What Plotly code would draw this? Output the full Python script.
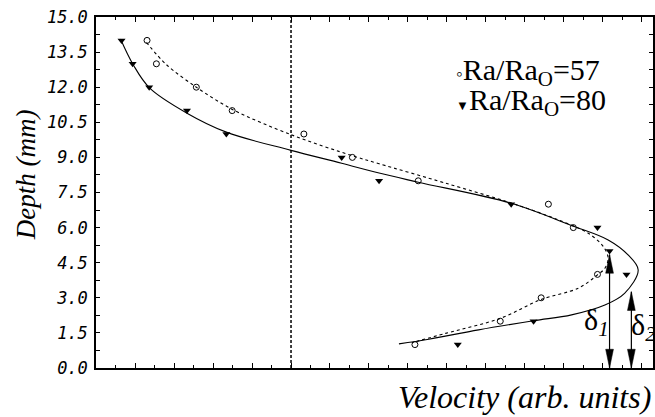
import plotly.graph_objects as go

# ---- data ----
depth57 = [14, 13, 12, 11, 10, 9, 8, 7, 6, 4, 3, 2, 1]
vel57 = [-7.39, -6.91, -4.86, -3.02, 0.66, 3.15, 6.53, 13.21, 14.49, 15.73, 12.84, 10.74, 6.36]

depth80 = [14, 13, 12, 11, 10, 9, 8, 7, 6, 5, 4, 2, 1]
vel80 = [-8.70, -8.13, -7.28, -5.34, -3.32, 2.60, 4.52, 11.30, 15.73, 16.35, 17.22, 12.45, 8.56]

fit57_vel = [-7.42, -6.39, -4.86, -2.99, 0.0, 3.15, 4.52, 7.93, 11.34, 13.72, 15.26, 16.03,
             16.28, 16.11, 15.73, 14.75, 12.84, 10.74, 7.93, 6.20]
fit57_depth = [13.91, 12.96, 12.00, 11.04, 9.97, 9.07, 8.73, 7.90, 7.04, 6.33, 5.76, 5.19,
               4.69, 4.26, 3.98, 3.41, 2.93, 2.12, 1.48, 1.08]

fit80_vel = [-8.75, -8.10, -7.25, -5.34, -3.32, 0.0, 2.60, 4.52, 6.53, 11.30, 14.46, 16.28,
             17.30, 17.82, 17.12, 16.11, 14.40, 12.45, 9.63, 7.07, 5.54]
fit80_depth = [14.06, 12.96, 11.96, 10.89, 10.08, 9.30, 8.75, 8.33, 7.94, 7.04, 6.07, 5.47,
               4.83, 4.19, 3.19, 2.69, 2.27, 2.02, 1.63, 1.23, 1.03]

y_tick_vals = [0, 1.5, 3, 4.5, 6, 7.5, 9, 10.5, 12, 13.5, 15]
y_tick_text = ["0.0", "1.5", "3.0", "4.5", "6.0", "7.5", "9.0", "10.5", "12.0", "13.5", "15.0"]

zero_velocity = 0.0
delta_vel = [16.35, 17.47]
delta_top = [4.85, 3.26]
delta_label_vel = [15.68, 18.07]
delta_label_depth = [1.98, 1.77]
delta_labels = ["δ<sub><i>1</i></sub>", "δ<sub><i>2</i></sub>"]

legend_labels = ['<span style="font-size:19px">◦</span>Ra/Ra<sub>O</sub>=57',
                 '<span style="font-size:13px">▼</span>Ra/Ra<sub>O</sub>=80']

x_range = [-10.01, 18.58]
y_range = [0, 15]

SERIF = "Liberation Serif"
head_len = 0.8   # mm
head_half = 0.2  # velocity units

fig = go.Figure()

# zero-velocity dashed line
fig.add_trace(go.Scatter(x=[zero_velocity, zero_velocity], y=y_range, mode="lines",
                         line=dict(color="black", width=1.5, dash="3px,2px"),
                         showlegend=False, hoverinfo="skip"))

# fitted curves
fig.add_trace(go.Scatter(x=fit57_vel, y=fit57_depth, mode="lines",
                         line=dict(color="black", width=1.1, dash="3px,3px", shape="spline", smoothing=0.9),
                         showlegend=False))
fig.add_trace(go.Scatter(x=fit80_vel, y=fit80_depth, mode="lines",
                         line=dict(color="black", width=1.1, shape="spline", smoothing=1.0),
                         showlegend=False))

# data points
fig.add_trace(go.Scatter(x=vel57, y=depth57, mode="markers",
                         marker=dict(symbol="circle-open", size=6, color="black", line=dict(width=1)),
                         showlegend=False))
fig.add_trace(go.Scatter(x=vel80, y=depth80, mode="markers",
                         marker=dict(symbol="triangle-down", size=7, color="black"),
                         showlegend=False))

# delta arrows
for xv, top in zip(delta_vel, delta_top):
    fig.add_trace(go.Scatter(x=[xv, xv], y=[0, top], mode="lines",
                             line=dict(color="black", width=1.2), showlegend=False))
    fig.add_trace(go.Scatter(x=[xv, xv - head_half, xv + head_half, xv],
                             y=[top, top - head_len, top - head_len, top],
                             mode="lines", fill="toself", fillcolor="black",
                             line=dict(color="black", width=0.5), showlegend=False))
    fig.add_trace(go.Scatter(x=[xv, xv - head_half, xv + head_half, xv],
                             y=[0, head_len, head_len, 0],
                             mode="lines", fill="toself", fillcolor="black",
                             line=dict(color="black", width=0.5), showlegend=False))

for xl, yl, txt in zip(delta_label_vel, delta_label_depth, delta_labels):
    fig.add_annotation(x=xl, y=yl, text=txt, showarrow=False, xanchor="center", yanchor="middle",
                       font=dict(family=SERIF, size=30, color="black"))

# legend text
for i, txt in enumerate(legend_labels):
    fig.add_annotation(xref="paper", yref="paper", x=0.643, y=0.843 - i * 0.086, text=txt,
                       showarrow=False, xanchor="left", yanchor="middle",
                       font=dict(family=SERIF, size=30, color="black"))

# axis titles
fig.add_annotation(xref="paper", yref="paper", x=1.0, y=-0.083, text="Velocity (arb. units)",
                   showarrow=False, xanchor="right", yanchor="middle",
                   font=dict(family=SERIF, size=32, color="black", style="italic"))
fig.add_annotation(xref="paper", yref="paper", x=-0.125, y=0.55, text="Depth (mm)",
                   showarrow=False, xanchor="center", yanchor="middle", textangle=-90,
                   font=dict(family=SERIF, size=27, color="black", style="italic"))

fig.update_layout(
    width=655, height=417,
    margin=dict(l=96, r=0, t=17, b=49),
    paper_bgcolor="white", plot_bgcolor="white",
    xaxis=dict(range=x_range, showline=True, linecolor="black", linewidth=1.5, mirror="ticks",
               ticks="inside", tick0=0, dtick=2, ticklen=5, tickwidth=1.2, tickcolor="black",
               minor=dict(dtick=1, ticks="inside", ticklen=3, tickwidth=1, tickcolor="black"),
               showticklabels=False, showgrid=False, zeroline=False),
    yaxis=dict(range=y_range, showline=True, linecolor="black", linewidth=1.5, mirror="ticks",
               ticks="inside", tickvals=y_tick_vals, ticktext=y_tick_text, ticklen=4, tickwidth=1.2,
               tickcolor="black", ticklabelstandoff=3,
               minor=dict(tickvals=[v + 0.75 for v in y_tick_vals[:-1]], ticks="inside", ticklen=4,
                          tickwidth=1, tickcolor="black"),
               tickfont=dict(family="DejaVu Sans Mono", size=17, color="black", style="italic"),
               showgrid=False, zeroline=False),
    showlegend=False,
)

fig.write_html("out.html")
